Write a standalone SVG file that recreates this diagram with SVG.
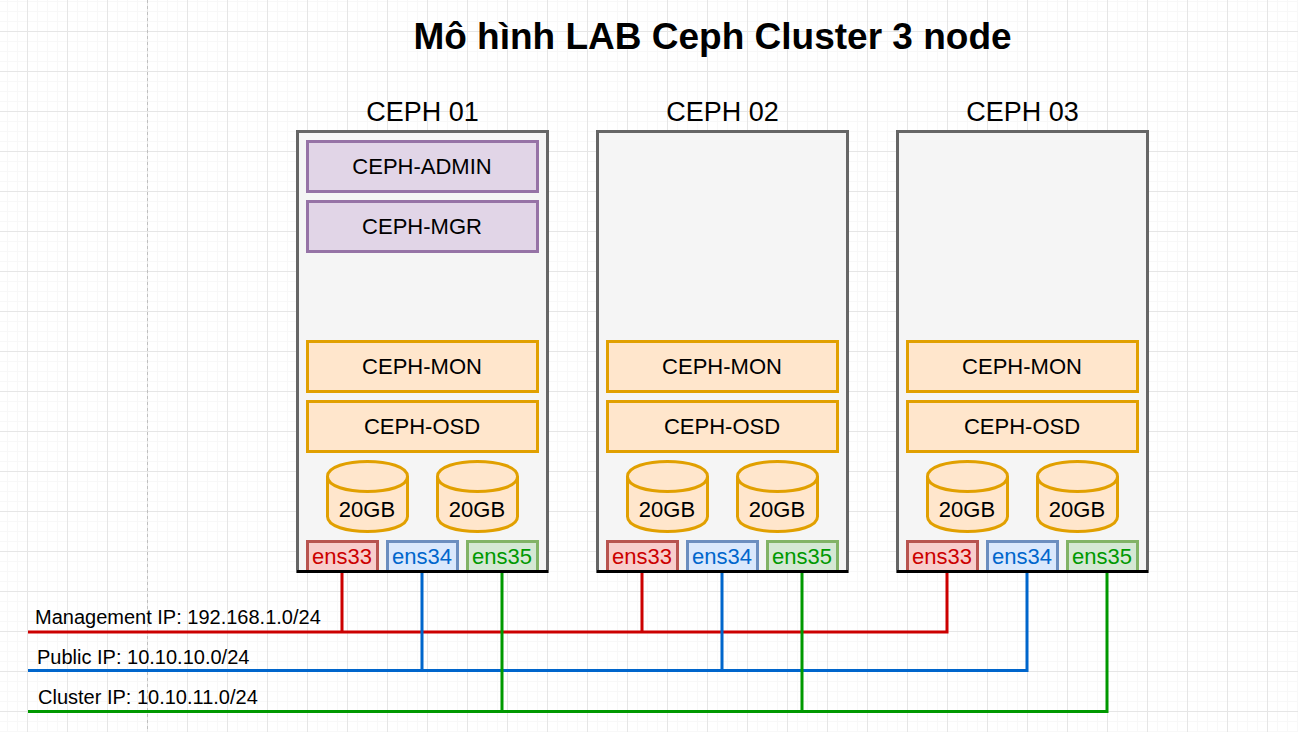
<svg xmlns="http://www.w3.org/2000/svg" xmlns:xlink="http://www.w3.org/1999/xlink" width="1298" height="732" viewBox="0 0 1298 732">
<style>
text{font-family:"Liberation Sans",Arial,sans-serif;fill:#000;text-anchor:middle}
.t{font-size:22px}
.l{font-size:20px;text-anchor:start}
.h{font-size:27px}
.host{fill:#f5f5f5;stroke:#666;stroke-width:3}
.base{stroke:#000;stroke-width:3;fill:none}
.p{fill:#e1d5e7;stroke:#9673a6;stroke-width:3}
.o{fill:#ffe6cc;stroke:#e1a000;stroke-width:3}
.cy{fill:#ffe6cc;stroke:#e1a000;stroke-width:3}
.cyl{fill:none;stroke:#e1a000;stroke-width:3}
.r{fill:#f8cecc;stroke:#b85450;stroke-width:3}
.b{fill:#dae8fc;stroke:#6c8ebf;stroke-width:3}
.g{fill:#d5e8d4;stroke:#82b366;stroke-width:3}
.cr{stroke:#cc0000;stroke-width:3;fill:none}
.cb{stroke:#0066cc;stroke-width:3;fill:none}
.cg{stroke:#009900;stroke-width:3;fill:none}
</style>
<defs>
<pattern id="grid" width="40" height="40" patternUnits="userSpaceOnUse" x="27" y="31">
<path d="M10.5 0V40M20.5 0V40M30.5 0V40M0 10.5H40M0 20.5H40M0 30.5H40" stroke="#f8f8f8" stroke-width="1" fill="none"/>
<path d="M0.5 0V40M0 0.5H40" stroke="#e6e6e6" stroke-width="1" fill="none"/>
</pattern>
<g id="cyl">
<path class="cy" d="M0 15C0 -5 80 -5 80 15V55C80 75 0 75 0 55Z"/>
<path class="cyl" d="M0 15C0 35 80 35 80 15"/>
</g>
</defs>
<rect width="1298" height="732" fill="#fff"/>
<rect width="1298" height="732" fill="url(#grid)"/>
<path d="M147.5 0V732" stroke="#c0c0c0" stroke-width="1" stroke-dasharray="3 3" fill="none"/>
<text id="title" x="712.5" y="49" font-size="37" font-weight="bold">Mô hình LAB Ceph Cluster 3 node</text>

<g id="connectors">
<path class="cr" d="M28 632H947V571M342 571V632M642 571V632"/>
<path class="cb" d="M28 670.5H1027V571M422 571V670.5M722 571V670.5"/>
<path class="cg" d="M28 711.5H1107V571M502 571V711.5M802 571V711.5"/>
</g>

<g id="ceph01">
<text class="h" x="422.5" y="121">CEPH 01</text>
<rect class="host" x="297.5" y="131.5" width="250" height="440"/>
<rect class="p" x="307.5" y="141.5" width="230" height="50"/><text class="t" x="422" y="174">CEPH-ADMIN</text>
<rect class="p" x="307.5" y="201.5" width="230" height="50"/><text class="t" x="422" y="234">CEPH-MGR</text>
<rect class="o" x="307.5" y="341.5" width="230" height="50"/><text class="t" x="422" y="374">CEPH-MON</text>
<rect class="o" x="307.5" y="401.5" width="230" height="50"/><text class="t" x="422" y="434">CEPH-OSD</text>
<use xlink:href="#cyl" href="#cyl" x="327.5" y="461.5"/><text class="t" x="367" y="517">20GB</text>
<use xlink:href="#cyl" href="#cyl" x="437.5" y="461.5"/><text class="t" x="477" y="517">20GB</text>
<rect class="r" x="307.5" y="541.5" width="70" height="30"/><text class="t" x="342" y="564" style="fill:#cc0000">ens33</text>
<rect class="b" x="387.5" y="541.5" width="70" height="30"/><text class="t" x="422" y="564" style="fill:#0066cc">ens34</text>
<rect class="g" x="467.5" y="541.5" width="70" height="30"/><text class="t" x="502" y="564" style="fill:#009900">ens35</text>
<path class="base" d="M297 571.5H548"/>
</g>

<g id="ceph02">
<text class="h" x="722.5" y="121">CEPH 02</text>
<rect class="host" x="597.5" y="131.5" width="250" height="440"/>
<rect class="o" x="607.5" y="341.5" width="230" height="50"/><text class="t" x="722" y="374">CEPH-MON</text>
<rect class="o" x="607.5" y="401.5" width="230" height="50"/><text class="t" x="722" y="434">CEPH-OSD</text>
<use xlink:href="#cyl" href="#cyl" x="627.5" y="461.5"/><text class="t" x="667" y="517">20GB</text>
<use xlink:href="#cyl" href="#cyl" x="737.5" y="461.5"/><text class="t" x="777" y="517">20GB</text>
<rect class="r" x="607.5" y="541.5" width="70" height="30"/><text class="t" x="642" y="564" style="fill:#cc0000">ens33</text>
<rect class="b" x="687.5" y="541.5" width="70" height="30"/><text class="t" x="722" y="564" style="fill:#0066cc">ens34</text>
<rect class="g" x="767.5" y="541.5" width="70" height="30"/><text class="t" x="802" y="564" style="fill:#009900">ens35</text>
<path class="base" d="M597 571.5H848"/>
</g>

<g id="ceph03">
<text class="h" x="1022.5" y="121">CEPH 03</text>
<rect class="host" x="897.5" y="131.5" width="250" height="440"/>
<rect class="o" x="907.5" y="341.5" width="230" height="50"/><text class="t" x="1022" y="374">CEPH-MON</text>
<rect class="o" x="907.5" y="401.5" width="230" height="50"/><text class="t" x="1022" y="434">CEPH-OSD</text>
<use xlink:href="#cyl" href="#cyl" x="927.5" y="461.5"/><text class="t" x="967" y="517">20GB</text>
<use xlink:href="#cyl" href="#cyl" x="1037.5" y="461.5"/><text class="t" x="1077" y="517">20GB</text>
<rect class="r" x="907.5" y="541.5" width="70" height="30"/><text class="t" x="942" y="564" style="fill:#cc0000">ens33</text>
<rect class="b" x="987.5" y="541.5" width="70" height="30"/><text class="t" x="1022" y="564" style="fill:#0066cc">ens34</text>
<rect class="g" x="1067.5" y="541.5" width="70" height="30"/><text class="t" x="1102" y="564" style="fill:#009900">ens35</text>
<path class="base" d="M897 571.5H1148"/>
</g>

<g id="labels">
<text class="l" x="35" y="624">Management IP: 192.168.1.0/24</text>
<text class="l" x="37" y="664">Public IP: 10.10.10.0/24</text>
<text class="l" x="38" y="704">Cluster IP: 10.10.11.0/24</text>
</g>
</svg>
